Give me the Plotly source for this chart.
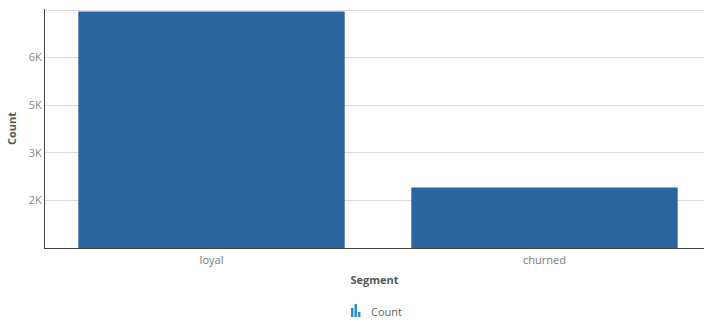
import plotly.graph_objects as go

segments = ["loyal", "churned"]
counts = [7950, 2410]
tick_vals = [2000, 3500, 5000, 6500, 7985]
tick_text = ["2K", "3K", "5K", "6K", ""]

W, H = 704, 320
ML, MR, MT, MB = 45, 0, 9, 72
PW, PH = W - ML - MR, H - MT - MB

def px(x):
    return (x - ML) / PW

def py(y):
    return (H - MB - y) / PH

fig = go.Figure()
fig.add_trace(go.Bar(x=segments, y=counts, name="Count",
                     marker=dict(color="#2a65a0", line=dict(width=0)),
                     showlegend=False))

font_family = "Open Sans, sans-serif"

# legend-like icon (three small bars) + label
icon_color = "#2b8fd0"
shapes = []
for x0, y0 in [(351, 308), (354.5, 304), (358, 312)]:
    shapes.append(dict(type="rect", xref="paper", yref="paper",
                       x0=px(x0), x1=px(x0 + 2.5), y0=py(317), y1=py(y0),
                       fillcolor=icon_color, line=dict(width=0), layer="above"))

fig.update_layout(
    width=W, height=H,
    margin=dict(l=ML, r=MR, t=MT, b=MB, pad=0),
    paper_bgcolor="white", plot_bgcolor="white",
    bargap=0.2,
    font=dict(family=font_family, size=11, color="#777"),
    xaxis=dict(range=[-0.5, -0.5 + PW / 333.0], showgrid=False,
               showline=True, linecolor="#444", linewidth=1,
               ticks="outside", ticklen=2, tickcolor="rgba(0,0,0,0)",
               tickfont=dict(size=11, color="#777"),
               title=dict(text="<b>Segment</b>", font=dict(size=11, color="#555"),
                          standoff=10),
               fixedrange=True),
    yaxis=dict(range=[500, 8030], tickvals=tick_vals, ticktext=tick_text,
               showgrid=True, gridcolor="#dcdcdc", gridwidth=1,
               showline=True, linecolor="#444", linewidth=1,
               ticks="", tickfont=dict(size=11, color="#888"),
               title=dict(text="<b>Count</b>", font=dict(size=11, color="#555"),
                          standoff=9),
               zeroline=False, fixedrange=True),
    shapes=shapes,
    annotations=[dict(text="Count", xref="paper", yref="paper",
                      x=px(369), y=py(311), xanchor="left", yanchor="middle",
                      showarrow=False, font=dict(size=11, color="#666"))],
)

fig.write_html("out.html", config={"displayModeBar": False})
